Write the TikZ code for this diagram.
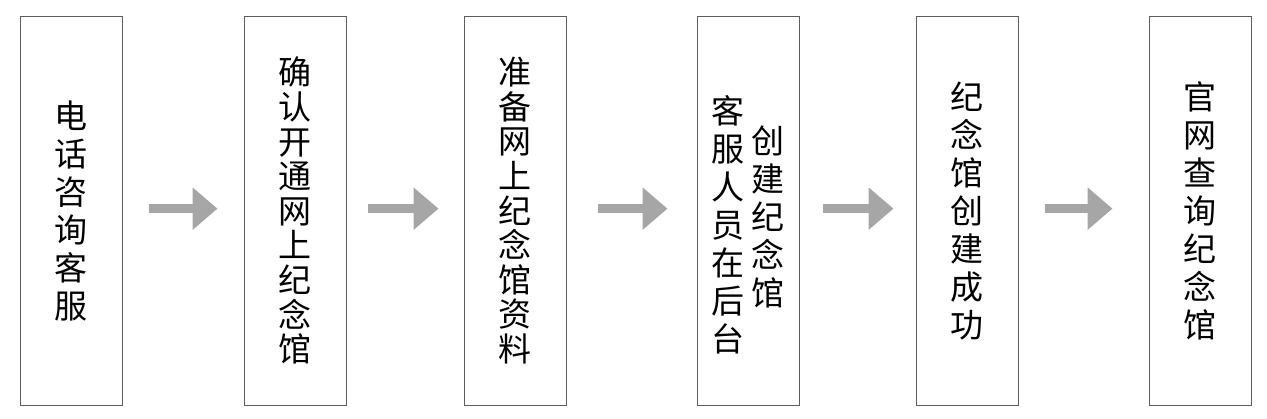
\documentclass[tikz,border=0pt]{standalone}
\usepackage{fontspec}
\newfontfamily\cjk{Noto Sans CJK SC}
\usetikzlibrary{arrows.meta}
\definecolor{boxline}{HTML}{5E5E5E}
\definecolor{arrowgray}{HTML}{A6A6A6}
\begin{document}
\begin{tikzpicture}[x=1pt,y=-1pt,
  stepbox/.style={draw=boxline,line width=1.3pt,minimum width=102pt,minimum height=389pt,
    inner sep=0pt,anchor=north west,align=center,text=black,
    font=\cjk\fontsize{33}{38}\selectfont},
  tightbox/.style={stepbox,font=\cjk\fontsize{33}{34.6}\selectfont},
  coltext/.style={inner sep=0pt,align=center,text=black,font=\cjk\fontsize{33}{38}\selectfont},
  flowarrow/.style={draw=arrowgray,line width=9pt,
    -{Triangle[length=25pt,width=41pt]}}]
\useasboundingbox (0,0) rectangle (1267,418);
\node[stepbox]  (b1) at (19.5,15.5)   {电\\话\\咨\\询\\客\\服};
\node[tightbox] (b2) at (243.5,15.5)  {确\\认\\开\\通\\网\\上\\纪\\念\\馆};
\node[tightbox] (b3) at (463.5,15.5)  {准\\备\\网\\上\\纪\\念\\馆\\资\\料};
\node[stepbox]  (b4) at (696.5,15.5)  {};
\node[coltext]  (b4l) at (727.5,225) {客\\服\\人\\员\\在\\后\\台};
\node[coltext]  (b4r) at (768,216.5) {创\\建\\纪\\念\\馆};
\node[stepbox]  (b5) at (915.5,15.5)  {纪\\念\\馆\\创\\建\\成\\功};
\node[stepbox]  (b6) at (1148.5,15.5) {官\\网\\查\\询\\纪\\念\\馆};
\draw[flowarrow,shorten <=26pt,shorten >=26pt] ([yshift=2pt]b1.east) -- ([yshift=2pt]b2.west);
\draw[flowarrow,shorten <=21pt,shorten >=25pt] ([yshift=2pt]b2.east) -- ([yshift=2pt]b3.west);
\draw[flowarrow,shorten <=31pt,shorten >=29pt] ([yshift=2pt]b3.east) -- ([yshift=2pt]b4.west);
\draw[flowarrow,shorten <=23pt,shorten >=22pt] ([yshift=2pt]b4.east) -- ([yshift=2pt]b5.west);
\draw[flowarrow,shorten <=26pt,shorten >=36pt] ([yshift=2pt]b5.east) -- ([yshift=2pt]b6.west);
\end{tikzpicture}
\end{document}
